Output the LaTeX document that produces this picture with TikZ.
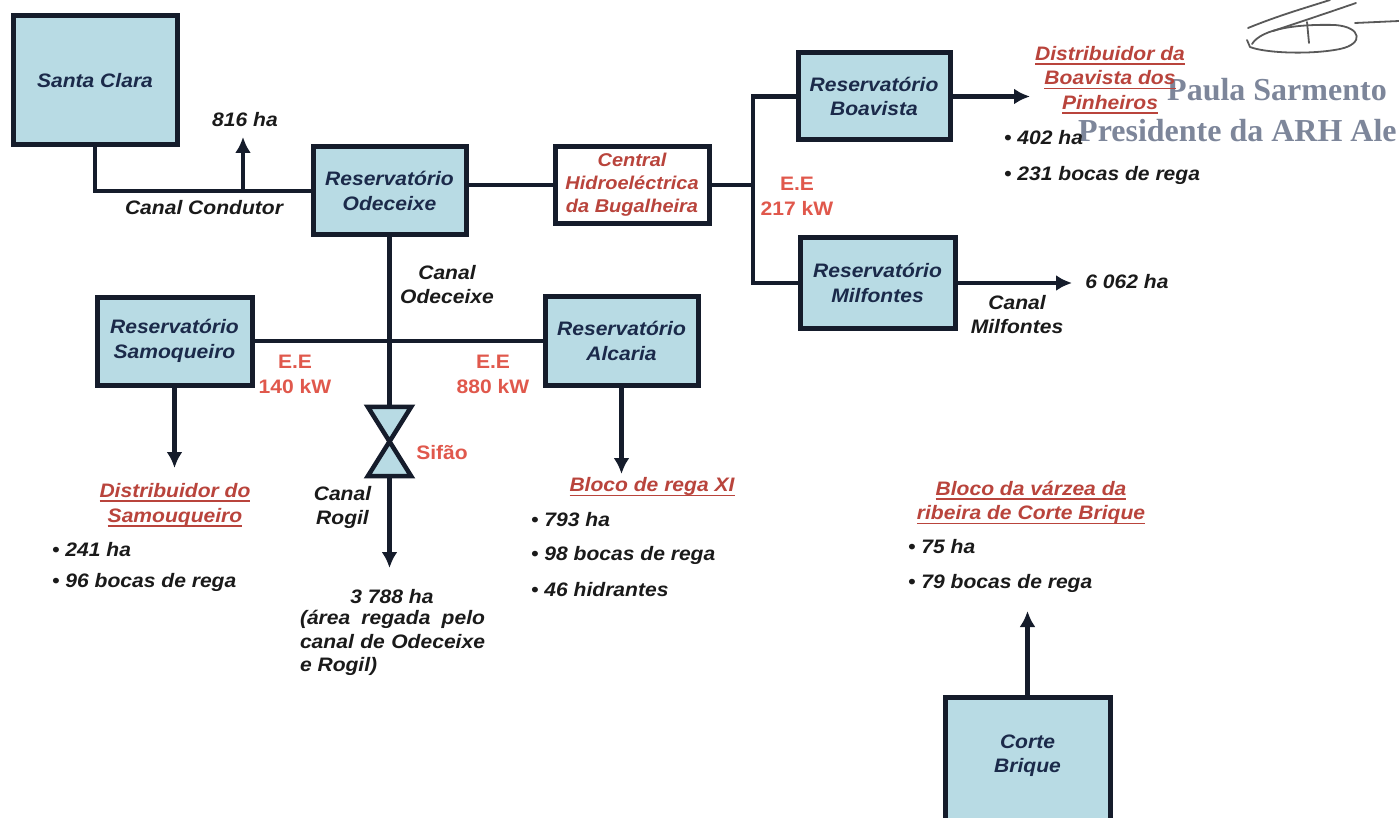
\documentclass[tikz,border=0pt]{standalone}
\usepackage{fontspec}
\setmainfont{Liberation Sans}[FakeStretch=1.08]
\newfontfamily\stampfont{Liberation Serif}
\usetikzlibrary{arrows.meta}
\definecolor{boxfill}{HTML}{B8DBE4}
\definecolor{boxline}{HTML}{151C2B}
\definecolor{navy}{HTML}{1B2A4A}
\definecolor{redh}{HTML}{B9443C}
\definecolor{redee}{HTML}{E0584C}
\definecolor{stampc}{HTML}{7D869A}
\definecolor{inkc}{HTML}{1A1A1A}
\newcommand\myul[1]{\setbox0\hbox{#1}\rlap{\rule[-4.5pt]{\wd0}{1.6pt}}\box0}
\tikzset{
  every node/.style={font=\fontsize{19.5}{24.5}\selectfont\bfseries\itshape, inner sep=0pt},
  box/.style={draw=boxline, line width=5pt, fill=boxfill, text=navy, align=center},
  conn/.style={draw=boxline, line width=4.5pt},
  arr/.style={conn, -{Latex[length=16pt,width=16pt]}},
  lbl/.style={text=inkc, align=center},
  hd/.style={text=redh, align=center},
  ee/.style={text=redee, align=center, font=\fontsize{19.5}{25.5}\selectfont\bfseries},
  item/.style={text=inkc, anchor=west},
  stamptxt/.style={anchor=base west, text=stampc, font=\stampfont\fontsize{32}{36}\selectfont\bfseries},
  sig/.style={draw=black!65, line width=1.8pt, line cap=round, line join=round}
}
\begin{document}
\begin{tikzpicture}[x=1pt,y=-1pt]
\useasboundingbox (0,0) rectangle (1399,818);

% stamp and signature
\node[stamptxt] (st1) at (1167,101) {Paula Sarmento};
\node[stamptxt] (st2) at (1078,142) {Presidente da ARH Ale};
\draw[sig] (1252,44) .. controls (1262,28) and (1300,24) .. (1335,25)
  .. controls (1362,27) and (1364,44) .. (1340,49)
  .. controls (1310,55) and (1265,53) .. (1250,47) -- (1247,40);
\draw[sig] (1355,23) -- (1399,21);
\draw[sig] (1248,28) .. controls (1280,15) and (1305,8) .. (1330,0);
\draw[sig] (1273,31) .. controls (1300,22) and (1330,12) .. (1356,3);
\draw[sig] (1307,22) -- (1309,43);

% boxes
\node[box, minimum width=164pt, minimum height=129pt] (sc) at (95,80.5) {Santa Clara};
\node[box, minimum width=153pt, minimum height=88pt] (od) at (389.5,191) {Reservatório\\Odeceixe};
\node[box, fill=white, text=redh, minimum width=154pt, minimum height=77pt, font=\fontsize{18.5}{23}\selectfont\bfseries\itshape] (ce) at (632,185) {Central\\Hidroeléctrica\\da Bugalheira};
\node[box, minimum width=152pt, minimum height=87pt] (bo) at (874,96.5) {Reservatório\\Boavista};
\node[box, minimum width=155pt, minimum height=90pt] (mi) at (877.5,283) {Reservatório\\Milfontes};
\node[box, minimum width=155pt, minimum height=88pt] (sa) at (174.5,341) {Reservatório\\Samoqueiro};
\node[box, minimum width=153pt, minimum height=89pt] (al) at (621.5,341) {Reservatório\\Alcaria};
\node[box, minimum width=165pt, minimum height=140pt] (cb) at (1027.5,767) {};
\node[text=navy, align=center] (cbt) at (1027.5,755.5) {Corte\\Brique};

% siphon
\node[minimum width=43pt, minimum height=69pt] (sif) at (389.5,441.5) {};
\draw[draw=boxline, line width=4.5pt, fill=boxfill, line join=miter]
  (sif.north west) -- (sif.north east) -- (sif.south west) -- (sif.south east) -- cycle;

% junction / tip coordinates
\coordinate (j816) at (243,190);
\coordinate (t816) at (243,137);
\coordinate (jr) at (753,185);
\coordinate (tbo) at (1030,96.5);
\coordinate (tmi) at (1072,283);
\coordinate (tsa) at (174.5,468);
\coordinate (tal) at (621.5,474);
\coordinate (trog) at (389.5,568);
\coordinate (tcb) at (1027.5,611);

% connectors
\draw[conn] (sc.south) |- (od.west);
\draw[arr] (j816) -- (t816);
\draw[conn] (od.east |- ce.west) -- (ce.west);
\draw[conn] (ce.east) -- (jr);
\draw[conn] (bo.west) -| (jr);
\draw[conn] (mi.west) -| (jr);
\draw[arr] (bo.east) -- (tbo);
\draw[arr] (mi.east) -- (tmi);
\draw[conn] (od.south) -- (sif.north);
\draw[conn] (sa.east) -- (al.west);
\draw[arr] (sif.south) -- (trog);
\draw[arr] (sa.south) -- (tsa);
\draw[arr] (al.south) -- (tal);
\draw[arr] (cb.north) -- (tcb);

% labels
\node[lbl] (l816) at (245,120) {816 ha};
\node[lbl] (lcc) at (204,208) {Canal Condutor};
\node[lbl] (lco) at (447,284.5) {Canal\\Odeceixe};
\node[ee] (ee217) at (797,196.5) {E.E\\217 kW};
\node[ee] (ee140) at (295,374.5) {E.E\\140 kW};
\node[ee] (ee880) at (493,374.5) {E.E\\880 kW};
\node[ee] (lsif) at (442,453) {Sifão};
\node[lbl] (lrog) at (342.5,507.5) {Canal\\Rogil};
\node[lbl] (l3788) at (392,597) {3 788 ha};
\node[lbl, align=left, font=\fontsize{19.5}{23.5}\selectfont\bfseries\itshape] (lpar) at (392.5,643)
  {\makebox[185pt][s]{(área regada pelo}\\\makebox[185pt][s]{canal de Odeceixe}\\e Rogil)};
\node[lbl] (l6062) at (1127,282) {6 062 ha};
\node[lbl] (lcm) at (1017,314.5) {Canal\\Milfontes};

% headings
\node[hd] (hbo) at (1110,80) {\myul{Distribuidor da}\\\myul{Boavista dos}\\\myul{Pinheiros}};
\node[hd] (hsa) at (175,505) {\myul{Distribuidor do}\\\myul{Samouqueiro}};
\node[hd] (hal) at (652,487) {\myul{Bloco de rega XI}};
\node[hd] (hcb) at (1031,502.5) {\myul{Bloco da várzea da}\\\myul{ribeira de Corte Brique}};

% items
\node[item] (i1) at (1004,138) {\textbullet\ 402 ha};
\node[item] (i2) at (1004,175) {\textbullet\ 231 bocas de rega};
\node[item] (i3) at (52,550) {\textbullet\ 241 ha};
\node[item] (i4) at (52,582) {\textbullet\ 96 bocas de rega};
\node[item] (i5) at (531,520) {\textbullet\ 793 ha};
\node[item] (i6) at (531,555) {\textbullet\ 98 bocas de rega};
\node[item] (i7) at (531,590) {\textbullet\ 46 hidrantes};
\node[item] (i8) at (908,547) {\textbullet\ 75 ha};
\node[item] (i9) at (908,583) {\textbullet\ 79 bocas de rega};
\end{tikzpicture}
\end{document}
